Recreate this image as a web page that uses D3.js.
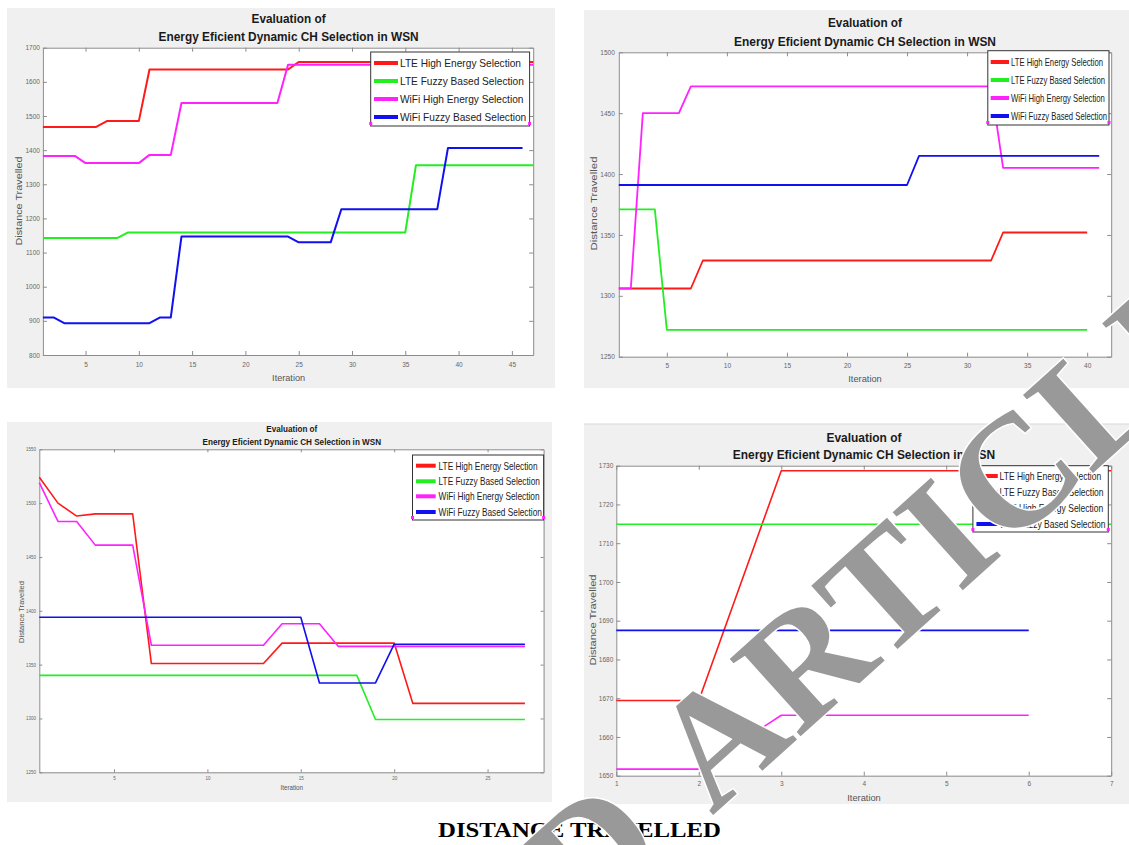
<!DOCTYPE html>
<html><head><meta charset="utf-8">
<script src="https://cdn.jsdelivr.net/npm/d3@7"></script>
<style>body{margin:0;background:#fff}svg{display:block}</style>
</head><body>
<svg id="c" width="1129" height="845"></svg>
<script>
// ---------- shared labels ----------
const seriesNames = ["LTE High Energy Selection","LTE Fuzzy Based Selection","WiFi High Energy Selection","WiFi Fuzzy Based Selection"];
const seriesColors = ["#ff1a1a","#22ee22","#ff22ff","#1010f0"];
const titleLine1 = "Evaluation of";
const titleLine2 = "Energy Eficient Dynamic CH Selection in WSN";
const xLabel = "Iteration";
const yLabel = "Distance Travelled";
const caption = "DISTANCE TRAVELLED";
const watermarkWords = ["RETRACTED", "ARTICLE"];

// ---------- panel 1 (top-left) ----------
const p1LteHigh = [1468,1468,1468,1468,1468,1468,1485,1485,1485,1485,
  1636,1636,1636,1636,1636,1636,1636,1636,1636,1636,1636,1636,1636,1636,
  1658,1658,1658,1658,1658,1658,1658,1658,1658,1658,1658,1658,1658,1658,1658,1658,1658,1658,1658,1658,1658,1658,1658];
const p1LteFuzzy = [1143,1143,1143,1143,1143,1143,1143,1143,
  1159,1159,1159,1159,1159,1159,1159,1159,1159,1159,1159,1159,1159,1159,1159,1159,1159,1159,1159,1159,1159,1159,1159,1159,1159,1159,1159,
  1356,1356,1356,1356,1356,1356,1356,1356,1356,1356,1356,1356];
const p1WifiHigh = [1383,1383,1383,1383,1362,1362,1362,1362,1362,1362,1386,1386,1386,
  1538,1538,1538,1538,1538,1538,1538,1538,1538,1538,
  1650,1650,1650,1650,1650,1650,1650,1650,1650,1650,1650,1650,1650,1650,1650,1650,1650,1650,1650,1650,1650,1650,1650,1650];
const p1WifiFuzzy = [910,910,893,893,893,893,893,893,893,893,893,910,910,
  1147,1147,1147,1147,1147,1147,1147,1147,1147,1147,1147,
  1130,1130,1130,1130,1227,1227,1227,1227,1227,1227,1227,1227,1227,1227,
  1406,1406,1406,1406,1406,1406,1406,1406];
const p1XTicks = [5,10,15,20,25,30,35,40,45];
const p1YTicks = [800,900,1000,1100,1200,1300,1400,1500,1600,1700];

// ---------- panel 2 (top-right) ----------
const p2LteHigh = [1306,1306,1306,1306,1306,1306,1306,
  1329,1329,1329,1329,1329,1329,1329,1329,1329,1329,1329,1329,1329,1329,1329,1329,1329,1329,1329,1329,1329,1329,1329,1329,1329,
  1352,1352,1352,1352,1352,1352,1352,1352];
const p2LteFuzzy = [1371,1371,1371,1371,
  1272,1272,1272,1272,1272,1272,1272,1272,1272,1272,1272,1272,1272,1272,1272,1272,1272,1272,
  1272,1272,1272,1272,1272,1272,1272,1272,1272,1272,1272,1272,1272,1272,1272,1272,1272,1272];
const p2WifiHigh = [1306,1306,1450,1450,1450,1450,
  1472,1472,1472,1472,1472,1472,1472,1472,1472,1472,1472,1472,1472,1472,1472,1472,1472,1472,1472,1472,1472,1472,1472,1472,1472,1472,
  1405,1405,1405,1405,1405,1405,1405,1405,1405];
const p2WifiFuzzy = [1391,1391,1391,1391,1391,1391,1391,1391,1391,1391,1391,1391,1391,1391,1391,1391,1391,1391,1391,1391,1391,1391,1391,1391,1391,
  1415,1415,1415,1415,1415,1415,1415,1415,1415,1415,1415,1415,1415,1415,1415,1415];
const p2XTicks = [5,10,15,20,25,30,35,40];
const p2YTicks = [1250,1300,1350,1400,1450,1500];

// ---------- panel 3 (bottom-left) ----------
const p3LteHigh = [1524,1500,1488,1490,1490,1490,1351,1351,1351,1351,1351,1351,1351,
  1370,1370,1370,1370,1370,1370,1370,1314,1314,1314,1314,1314,1314,1314];
const p3LteFuzzy = [1340,1340,1340,1340,1340,1340,1340,1340,1340,1340,1340,1340,1340,1340,1340,1340,1340,1340,
  1299,1299,1299,1299,1299,1299,1299,1299,1299];
const p3WifiHigh = [1519,1483,1483,1461,1461,1461,1368,1368,1368,1368,1368,1368,1368,
  1388,1388,1388,1367,1367,1367,1367,1367,1367,1367,1367,1367,1367,1367];
const p3WifiFuzzy = [1394,1394,1394,1394,1394,1394,1394,1394,1394,1394,1394,1394,1394,1394,1394,
  1333,1333,1333,1333,1369,1369,1369,1369,1369,1369,1369,1369];
const p3XTicks = [5,10,15,20,25];
const p3YTicks = [1250,1300,1350,1400,1450,1500,1550];

// ---------- panel 4 (bottom-right) ----------
const p4LteHigh = [1669.4,1669.4,1728.7,1728.7,1728.7,1728.7,1728.7];
const p4LteFuzzy = [1714.9,1714.9,1714.9,1714.9,1714.9,1714.9,1714.9];
const p4WifiHigh = [1651.7,1651.7,1665.6,1665.6,1665.6,1665.6];
const p4WifiFuzzy = [1687.5,1687.5,1687.5,1687.5,1687.5,1687.5];
const p4XTicks = [1,2,3,4,5,6,7];
const p4YTicks = [1650,1660,1670,1680,1690,1700,1710,1720,1730];

// ---------- layout (positions / styles only) ----------
const panels = [
  {series:[p1LteHigh,p1LteFuzzy,p1WifiHigh,p1WifiFuzzy], xTicks:p1XTicks, yTicks:p1YTicks, xDom:[1,47],
   bg:[7,8,555,388], plot:[42.9,47.7,533.2,355],
   tCx:288.6, t1Y:22.7, t2Y:40.5, t1W:74, t2W:260, tFs:12.5,
   xlY:380.5, xlW:33, xlFs:9.5, ylX:22, ylCy:201, ylW:89, ylFs:9.5,
   tickFs:6.5, tickLen:4, xTickLabY:365, yPad:3, lw:2,
   leg:{x0:370.7,y0:52,x1:529.6,y1:126, rows:[63,81,99,117], lx0:374, lx1:398, tx:400, fs:11.5, w:121}},
  {series:[p2LteHigh,p2LteFuzzy,p2WifiHigh,p2WifiFuzzy], xTicks:p2XTicks, yTicks:p2YTicks, xDom:[1,42],
   bg:[584,10,1129,388], plot:[618.8,52.3,1111.2,356.7],
   tCx:865, t1Y:27, t2Y:46, t1W:74, t2W:262, tFs:12.5,
   xlY:382, xlW:33.5, xlFs:9.5, ylX:597, ylCy:203.5, ylW:94, ylFs:9.5,
   tickFs:6.5, tickLen:4, xTickLabY:365.5, yPad:4, lw:1.8,
   leg:{x0:987.8,y0:50.7,x1:1109,y1:125, rows:[62,80,98,116], lx0:990.7, lx1:1009, tx:1011, fs:11.5, w:92}},
  {series:[p3LteHigh,p3LteFuzzy,p3WifiHigh,p3WifiFuzzy], xTicks:p3XTicks, yTicks:p3YTicks, xDom:[1,28],
   bg:[7,422,552,802], plot:[39.3,449.3,543.6,772.3],
   tCx:291.8, t1Y:432, t2Y:444.5, t1W:51, t2W:178.6, tFs:9,
   xlY:789.7, xlW:22.5, xlFs:7, ylX:24, ylCy:612, ylW:62, ylFs:7,
   tickFs:4.5, tickLen:3, xTickLabY:778, yPad:3.3, lw:1.6,
   leg:{x0:412.5,y0:455,x1:543.6,y1:520, rows:[465.7,481.3,496.3,512], lx0:416, lx1:435.7, tx:438.6, fs:11, w:99}},
  {series:[p4LteHigh,p4LteFuzzy,p4WifiHigh,p4WifiFuzzy], xTicks:p4XTicks, yTicks:p4YTicks, xDom:[1,7],
   bg:[584,424,1129,804], plot:[616.3,465.7,1111.2,775.7],
   tCx:864, t1Y:441.5, t2Y:459, t1W:75, t2W:262.4, tFs:12.5,
   xlY:800.7, xlW:33.5, xlFs:9.5, ylX:596, ylCy:620, ylW:91, ylFs:9.5,
   tickFs:6.5, tickLen:4, xTickLabY:784, yPad:3, lw:1.6,
   leg:{x0:972.9,y0:465.7,x1:1108.3,y1:532, rows:[476,492.3,508,524], lx0:976.4, lx1:997.8, tx:999.6, fs:11.5, w:101.6}}
];

const svg = d3.select("#c");
const SANS = "'Liberation Sans', Arial, sans-serif";
const SERIF = "'Liberation Serif', 'Times New Roman', serif";

function drawPanel(P, i) {
  const g = svg.append("g").attr("class","panel"+(i+1));
  const [bx0,by0,bx1,by1] = P.bg;
  g.append("rect").attr("x",bx0).attr("y",by0).attr("width",bx1-bx0).attr("height",by1-by0).attr("fill","#f0f0f0");
  const [px0,py0,px1,py1] = P.plot;
  g.append("rect").attr("x",px0).attr("y",py0).attr("width",px1-px0).attr("height",py1-py0).attr("fill","#ffffff");

  const x = d3.scaleLinear().domain(P.xDom).range([px0,px1]);
  const yDom = [P.yTicks[0], P.yTicks[P.yTicks.length-1]];
  const y = d3.scaleLinear().domain(yDom).range([py1,py0]);

  const axCol = "#8c8c8c", labCol = "#666";
  const styleAxis = sel => {
    sel.select(".domain").attr("stroke", axCol).attr("stroke-width",1);
    sel.selectAll(".tick line").attr("stroke", axCol);
    sel.selectAll(".tick text").attr("fill", labCol).style("font-family", SANS).style("font-size", P.tickFs+"px");
  };
  const padX = (P.xTickLabY - py1) - 0.35*P.tickFs;
  g.append("g").attr("transform",`translate(0,${py1})`)
    .call(d3.axisBottom(x).tickValues(P.xTicks).tickFormat(d3.format("d")).tickSize(-P.tickLen).tickSizeOuter(0).tickPadding(padX))
    .call(styleAxis);
  g.append("g").attr("transform",`translate(0,${py0})`)
    .call(d3.axisTop(x).tickValues(P.xTicks).tickFormat("").tickSize(-P.tickLen).tickSizeOuter(0))
    .call(styleAxis);
  g.append("g").attr("transform",`translate(${px0},0)`)
    .call(d3.axisLeft(y).tickValues(P.yTicks).tickFormat(d3.format("d")).tickSize(-P.tickLen).tickSizeOuter(0).tickPadding(P.yPad))
    .call(styleAxis);
  g.append("g").attr("transform",`translate(${px1},0)`)
    .call(d3.axisRight(y).tickValues(P.yTicks).tickFormat("").tickSize(-P.tickLen).tickSizeOuter(0))
    .call(styleAxis);

  // lines
  const line = d3.line().x((d,k)=>x(k+1)).y(d=>y(d));
  P.series.forEach((s,k) => {
    g.append("path").datum(s).attr("d", line).attr("fill","none")
      .attr("stroke", seriesColors[k]).attr("stroke-width", P.lw).attr("stroke-linejoin","round");
  });

  // titles
  g.append("text").text(titleLine1).attr("x",P.tCx).attr("y",P.t1Y).attr("text-anchor","middle")
    .attr("textLength",P.t1W).attr("lengthAdjust","spacingAndGlyphs")
    .style("font-family",SANS).style("font-weight","bold").style("font-size",P.tFs+"px").attr("fill","#1a1a1a");
  g.append("text").text(titleLine2).attr("x",P.tCx).attr("y",P.t2Y).attr("text-anchor","middle")
    .attr("textLength",P.t2W).attr("lengthAdjust","spacingAndGlyphs")
    .style("font-family",SANS).style("font-weight","bold").style("font-size",P.tFs+"px").attr("fill","#1a1a1a");
  // axis labels
  g.append("text").text(xLabel).attr("x",P.tCx).attr("y",P.xlY).attr("text-anchor","middle")
    .attr("textLength",P.xlW).attr("lengthAdjust","spacingAndGlyphs")
    .style("font-family",SANS).style("font-size",P.xlFs+"px").attr("fill","#555");
  g.append("text").text(yLabel).attr("transform",`translate(${P.ylX},${P.ylCy}) rotate(-90)`).attr("text-anchor","middle")
    .attr("textLength",P.ylW).attr("lengthAdjust","spacingAndGlyphs")
    .style("font-family",SANS).style("font-size",P.ylFs+"px").attr("fill","#555");

  // legend
  const L = P.leg;
  g.append("rect").attr("x",L.x0).attr("y",L.y0).attr("width",L.x1-L.x0).attr("height",L.y1-L.y0)
    .attr("fill","#fff").attr("stroke","#333").attr("stroke-width",1);
  let scale = null;
  seriesNames.forEach((nm,k) => {
    g.append("line").attr("x1",L.lx0).attr("x2",L.lx1).attr("y1",L.rows[k]).attr("y2",L.rows[k])
      .attr("stroke",seriesColors[k]).attr("stroke-width",4);
    const t = g.append("text").text(nm).attr("x",L.tx).attr("y",L.rows[k]).attr("dy","0.35em")
      .style("font-family",SANS).style("font-size",L.fs+"px").attr("fill","#222");
    const len = t.node().getComputedTextLength();
    if (scale === null) scale = L.w/len;
    t.attr("textLength", len*scale).attr("lengthAdjust","spacingAndGlyphs");
  });
  // small magenta artefacts at legend bottom corners
  [L.x0, L.x1].forEach(xx => {
    g.append("line").attr("x1",xx-1.5).attr("x2",xx+1.5).attr("y1",L.y1-2.5).attr("y2",L.y1-2.5)
      .attr("stroke","#ff22ff").attr("stroke-width",3);
  });
}
panels.forEach(drawPanel);

// toolbar strip above panel 4
svg.append("line").attr("x1",584).attr("x2",1129).attr("y1",424).attr("y2",424).attr("stroke","#d8d8d8");

// caption
svg.append("text").text(caption).attr("x",438).attr("y",837)
  .attr("textLength",283).attr("lengthAdjust","spacingAndGlyphs")
  .style("font-family",SERIF).style("font-weight","bold").style("font-size","20px").attr("fill","#000");

// watermark ("RETRACTED ARTICLE", rotated)
const wm = svg.append("g").attr("transform","translate(712,816) rotate(-42)")
  .style("font-family",SERIF).style("font-weight","bold").style("font-size","160px")
  .attr("fill","#999").attr("stroke","#fff").attr("stroke-width",3).attr("paint-order","stroke");
wm.append("text").text(watermarkWords[0]).attr("x",-55).attr("text-anchor","end");
wm.append("text").text(watermarkWords[1]).attr("x",0);
</script>
</body></html>
